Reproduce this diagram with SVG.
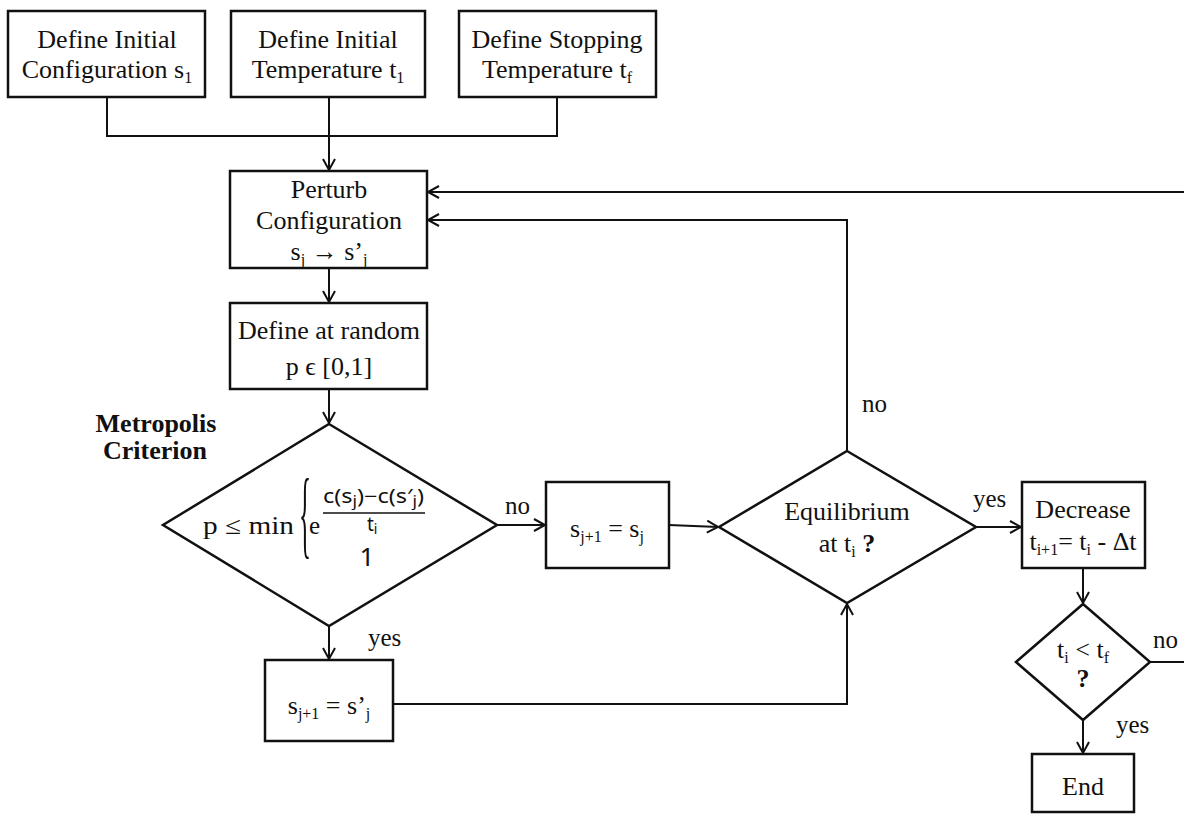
<svg xmlns="http://www.w3.org/2000/svg" width="1184" height="816" viewBox="0 0 1184 816">
<defs>
<marker id="arr" markerUnits="userSpaceOnUse" markerWidth="16" markerHeight="16" refX="12" refY="7" orient="auto">
<path d="M1,1 L12,7 L1,13" fill="none" stroke="#111" stroke-width="2"/>
</marker>
<style>
.box{fill:#fff;stroke:#111;stroke-width:2.5}
.ln{fill:none;stroke:#111;stroke-width:2}
.t{font-family:"Liberation Serif","Times New Roman",serif;font-size:26px;fill:#111;text-anchor:middle}
.lab{font-family:"Liberation Serif","Times New Roman",serif;font-size:25px;fill:#111}
.b{font-weight:bold}
.s{font-size:16px}
.m{font-family:"Noto Sans","DejaVu Sans",sans-serif;fill:#111}
</style>
</defs>
<rect width="1184" height="816" fill="#fff"/>
<g id="connectors">
<path class="ln" d="M107,97 V136 H557 V97"/>
<path class="ln" d="M329,97 V170" marker-end="url(#arr)"/>
<path class="ln" d="M329,268 V302" marker-end="url(#arr)"/>
<path class="ln" d="M329,389 V423" marker-end="url(#arr)"/>
<path class="ln" d="M497,525 H545" marker-end="url(#arr)"/>
<path class="ln" d="M669,525 L718,527" marker-end="url(#arr)"/>
<path class="ln" d="M329,626 V659" marker-end="url(#arr)"/>
<path class="ln" d="M393,704 H847 V604" marker-end="url(#arr)"/>
<path class="ln" d="M847,451 V220 H428" marker-end="url(#arr)"/>
<path class="ln" d="M976,527 H1021" marker-end="url(#arr)"/>
<path class="ln" d="M1083,568 V603" marker-end="url(#arr)"/>
<path class="ln" d="M1150,662 H1187 V192 H428" marker-end="url(#arr)"/>
<path class="ln" d="M1083,720 V753" marker-end="url(#arr)"/>
<text class="lab" x="505" y="514">no</text>
<text class="lab" x="862" y="412">no</text>
<text class="lab" x="973" y="507">yes</text>
<text class="lab" x="1153" y="648">no</text>
<text class="lab" x="1116" y="733">yes</text>
<text class="lab" x="368" y="646">yes</text>
</g>
<g id="n-init-config">
<rect class="box" x="8" y="11" width="197" height="86"/>
<text class="t" x="107" y="48">Define Initial</text>
<text class="t" x="107" y="78">Configuration s<tspan class="s" dy="5">1</tspan></text>
</g>
<g id="n-init-temp">
<rect class="box" x="231" y="11" width="194" height="86"/>
<text class="t" x="328" y="48">Define Initial</text>
<text class="t" x="328" y="78">Temperature t<tspan class="s" dy="5">1</tspan></text>
</g>
<g id="n-stop-temp">
<rect class="box" x="459" y="11" width="197" height="86"/>
<text class="t" x="557" y="48">Define Stopping</text>
<text class="t" x="557" y="78">Temperature t<tspan class="s" dy="5">f</tspan></text>
</g>
<g id="n-perturb">
<rect class="box" x="230" y="171" width="197" height="97"/>
<text class="t" x="329" y="198">Perturb</text>
<text class="t" x="329" y="229">Configuration</text>
<text class="t" x="329" y="260">s<tspan class="s" dy="5">j</tspan><tspan dy="-5"> → s’</tspan><tspan class="s" dy="5">j</tspan></text>
</g>
<g id="n-random">
<rect class="box" x="230" y="303" width="197" height="86"/>
<text class="t" x="329" y="339">Define at random</text>
<text class="t" x="329" y="375">p ϵ [0,1]</text>
</g>
<g id="n-metropolis">
<text class="t b" x="156" y="432" font-size="22">Metropolis</text>
<text class="t b" x="155" y="459" font-size="22">Criterion</text>
<polygon class="box" points="329,424 497,525 329,626 163,525"/>
<text class="lab" x="203" y="534" font-size="28" textLength="91" lengthAdjust="spacingAndGlyphs">p ≤ min</text>
<text class="lab" transform="translate(299,546) scale(1,3.9)" font-size="29">{</text>
<text class="lab" x="309" y="534" font-size="28">e</text>
<text class="m" x="323" y="503" font-size="19" textLength="101" lengthAdjust="spacingAndGlyphs">c(s<tspan font-size="14" dy="3">j</tspan><tspan dy="-3">)−c(s′</tspan><tspan font-size="14" dy="3">j</tspan><tspan dy="-3">)</tspan></text>
<line x1="323" y1="513" x2="425" y2="513" stroke="#111" stroke-width="1.5"/>
<text class="m" x="367" y="531" font-size="19">t<tspan font-size="14" dy="3">i</tspan></text>
<text class="m" x="367" y="566" font-size="26" text-anchor="middle">1</text>
</g>
<g id="n-reject">
<rect class="box" x="546" y="482" width="123" height="86"/>
<text class="t" x="607" y="537">s<tspan class="s" dy="5">j+1</tspan><tspan dy="-5"> = s</tspan><tspan class="s" dy="5">j</tspan></text>
</g>
<g id="n-accept">
<rect class="box" x="265" y="660" width="128" height="81"/>
<text class="t" x="329" y="714">s<tspan class="s" dy="5">j+1</tspan><tspan dy="-5"> = s’</tspan><tspan class="s" dy="5">j</tspan></text>
</g>
<g id="n-equilibrium">
<polygon class="box" points="847,451 976,527 847,603 719,527"/>
<text class="t" x="847" y="520">Equilibrium</text>
<text class="t" x="847" y="552">at t<tspan class="s" dy="5">i</tspan><tspan dy="-5" class="b"> ?</tspan></text>
</g>
<g id="n-decrease">
<rect class="box" x="1022" y="482" width="123" height="86"/>
<text class="t" x="1083" y="518">Decrease</text>
<text class="t" x="1083" y="550">t<tspan class="s" dy="5">i+1</tspan><tspan dy="-5">= t</tspan><tspan class="s" dy="5">i</tspan><tspan dy="-5"> - Δt</tspan></text>
</g>
<g id="n-stop-check">
<polygon class="box" points="1083,604 1150,662 1083,720 1016,662"/>
<text class="t" x="1083" y="658">t<tspan class="s" dy="5">i</tspan><tspan dy="-5"> &lt; t</tspan><tspan class="s" dy="5">f</tspan></text>
<text class="t b" x="1083" y="687">?</text>
</g>
<g id="n-end">
<rect class="box" x="1032" y="754" width="102" height="58"/>
<text class="t" x="1083" y="795">End</text>
</g>
</svg>
